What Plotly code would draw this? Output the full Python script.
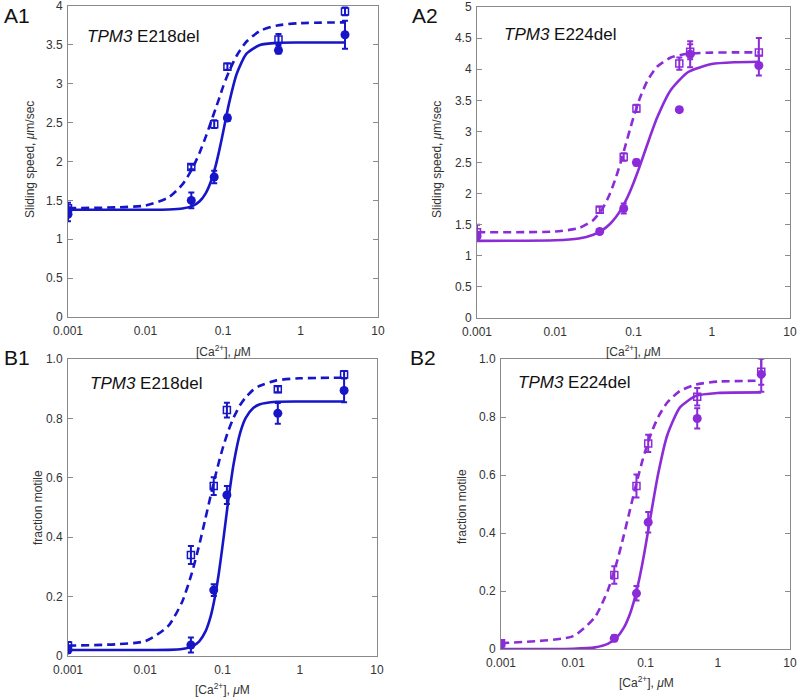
import plotly.graph_objects as go

BLUE = '#1616C8'
PURPLE = '#8C2CD8'
FONT = 'Liberation Sans, Arial, sans-serif'

# x tick labels shared by all panels
x_tickvals = [0.001, 0.01, 0.1, 1, 10]
x_ticktext = ['0.001', '0.01', '0.1', '1', '10']

# ---- A1 / B1 : TPM3 E218del (blue) ----
ca_218 = [0.001, 0.039, 0.077, 0.114, 0.52, 3.75]

a1_sq = [1.40, 1.93, 2.48, 3.22, 3.57, 3.93]
a1_sq_err = [0.07, 0.03, 0.05, 0.04, 0.07, 0.05]
a1_ci = [1.32, 1.50, 1.80, 2.56, 3.43, 3.63]
a1_ci_err = [0.09, 0.10, 0.08, 0.04, 0.04, 0.18]
a1_fit_x = [0.001, 0.01, 0.02, 0.03, 0.04, 0.05, 0.06, 0.07, 0.08, 0.09, 0.1, 0.12, 0.15, 0.2, 0.3, 0.5, 1, 3.75]
a1_fit_dash = [1.40, 1.434, 1.540, 1.705, 1.904, 2.115, 2.320, 2.509, 2.676, 2.821, 2.96, 3.16, 3.36, 3.54, 3.68, 3.75, 3.78, 3.79]
a1_fit_solid = [1.38, 1.38, 1.383, 1.395, 1.426, 1.489, 1.594, 1.746, 1.937, 2.153, 2.371, 2.754, 3.126, 3.384, 3.499, 3.526, 3.53, 3.53]

b1_sq = [0.035, 0.34, 0.572, 0.828, 0.898, 0.948]
b1_sq_err = [0.012, 0.03, 0.03, 0.025, 0.01, 0.012]
b1_ci = [0.02, 0.037, 0.222, 0.542, 0.817, 0.894]
b1_ci_err = [0.01, 0.025, 0.02, 0.03, 0.035, 0.04]
b1_fit_x = [0.001, 0.01, 0.02, 0.03, 0.04, 0.05, 0.06, 0.07, 0.08, 0.09, 0.1, 0.11, 0.12, 0.14, 0.17, 0.2, 0.25, 0.3, 0.5, 1, 3.75]
b1_fit_dash = [0.035, 0.050, 0.102, 0.182, 0.278, 0.374, 0.462, 0.538, 0.602, 0.654, 0.697, 0.732, 0.761, 0.804, 0.846, 0.871, 0.896, 0.909, 0.928, 0.935, 0.937]
b1_fit_solid = [0.02, 0.02, 0.0206, 0.0234, 0.0315, 0.0495, 0.0819, 0.132, 0.2007, 0.282, 0.370, 0.455, 0.532, 0.650, 0.753, 0.802, 0.835, 0.847, 0.856, 0.857, 0.857]

# ---- A2 / B2 : TPM3 E224del (purple) ----
ca_224_a = [0.001, 0.037, 0.075, 0.109, 0.385, 0.53, 4.0]
a2_sq = [1.38, 1.74, 2.59, 3.37, 4.09, 4.28, 4.27]
a2_sq_err = [0.12, 0.05, 0.06, 0.06, 0.10, 0.12, 0.23]
a2_ci = [1.31, 1.39, 1.76, 2.50, 3.35, 4.24, 4.06]
a2_ci_err = [0.07, 0.04, 0.08, 0.05, 0.04, 0.21, 0.16]
a2_fit_x = [0.001, 0.01, 0.02, 0.03, 0.04, 0.05, 0.06, 0.07, 0.08, 0.09, 0.1, 0.12, 0.15, 0.2, 0.3, 0.5, 1, 2, 4]
a2_fit_dash = [1.38, 1.39, 1.445, 1.565, 1.754, 1.998, 2.270, 2.544, 2.801, 3.029, 3.225, 3.527, 3.810, 4.039, 4.188, 4.249, 4.267, 4.27, 4.27]
a2_fit_solid = [1.24, 1.249, 1.279, 1.334, 1.412, 1.511, 1.627, 1.755, 1.891, 2.031, 2.170, 2.438, 2.789, 3.218, 3.666, 3.955, 4.083, 4.112, 4.12]

ca_224_b = [0.001, 0.037, 0.075, 0.109, 0.52, 4.0]
b2_sq = [0.02, 0.255, 0.562, 0.709, 0.87, 0.956]
b2_sq_err = [0.01, 0.03, 0.04, 0.03, 0.03, 0.045]
b2_ci = [0.015, 0.037, 0.192, 0.437, 0.795, 0.947]
b2_ci_err = [0.01, 0.01, 0.025, 0.035, 0.035, 0.06]
b2_fit_x = [0.001, 0.01, 0.02, 0.03, 0.04, 0.05, 0.06, 0.07, 0.08, 0.09, 0.1, 0.12, 0.15, 0.2, 0.3, 0.5, 1, 4]
b2_fit_dash = [0.0203, 0.0445, 0.1105, 0.201, 0.2985, 0.391, 0.4725, 0.542, 0.599, 0.647, 0.685, 0.744, 0.800, 0.850, 0.890, 0.912, 0.922, 0.925]
b2_fit_solid = [0.0, 0.0007, 0.0055, 0.0176, 0.0395, 0.0726, 0.1165, 0.1696, 0.229, 0.2915, 0.354, 0.470, 0.605, 0.737, 0.833, 0.873, 0.883, 0.885]

W, H = 800, 699


def fx(px):
    return px / W


def fy(py):
    return 1 - py / H


def add_panel(fig, n, color, x, sq, sq_err, ci, ci_err, fit_x, fit_dash, fit_solid):
    xa = 'x' if n == 1 else 'x%d' % n
    ya = 'y' if n == 1 else 'y%d' % n
    fig.add_trace(go.Scatter(x=fit_x, y=fit_dash, mode='lines', line=dict(color=color, width=2.6, dash='8px,5px', shape='spline', smoothing=0.6),
                             xaxis=xa, yaxis=ya, showlegend=False, hoverinfo='skip'))
    fig.add_trace(go.Scatter(x=fit_x, y=fit_solid, mode='lines', line=dict(color=color, width=2.6, shape='spline', smoothing=0.6),
                             xaxis=xa, yaxis=ya, showlegend=False, hoverinfo='skip'))
    fig.add_trace(go.Scatter(x=x, y=sq, mode='markers',
                             marker=dict(symbol='square-open', size=7, color=color, line=dict(width=1.5, color=color)),
                             error_y=dict(type='data', array=sq_err, color=color, thickness=2, width=3),
                             xaxis=xa, yaxis=ya, showlegend=False))
    fig.add_trace(go.Scatter(x=x, y=ci, mode='markers',
                             marker=dict(symbol='circle', size=9, color=color),
                             error_y=dict(type='data', array=ci_err, color=color, thickness=2, width=3),
                             xaxis=xa, yaxis=ya, showlegend=False))


fig = go.Figure()
add_panel(fig, 1, BLUE, ca_218, a1_sq, a1_sq_err, a1_ci, a1_ci_err, a1_fit_x, a1_fit_dash, a1_fit_solid)
add_panel(fig, 2, PURPLE, ca_224_a, a2_sq, a2_sq_err, a2_ci, a2_ci_err, a2_fit_x, a2_fit_dash, a2_fit_solid)
add_panel(fig, 3, BLUE, ca_218, b1_sq, b1_sq_err, b1_ci, b1_ci_err, b1_fit_x, b1_fit_dash, b1_fit_solid)
add_panel(fig, 4, PURPLE, ca_224_b, b2_sq, b2_sq_err, b2_ci, b2_ci_err, b2_fit_x, b2_fit_dash, b2_fit_solid)

tickfont = dict(family=FONT, size=12, color='#333333')
xcommon = dict(type='log', range=[-3, 1], tickvals=x_tickvals, ticktext=x_ticktext, showline=True, mirror=True,
               linecolor='#8a8a8a', linewidth=1, ticks='', ticklabelstandoff=3, showgrid=False, zeroline=False,
               tickfont=tickfont, automargin=False, ticklabeloverflow='allow')
ycommon = dict(showline=True, mirror='ticks', linecolor='#8a8a8a', linewidth=1, ticks='inside', ticklen=5,
               tickcolor='#8a8a8a', showgrid=False, zeroline=False, tickfont=tickfont, automargin=False,
               ticklabelstandoff=2, ticklabeloverflow='allow')

frac_vals = [0, 0.2, 0.4, 0.6, 0.8, 1.0]
frac_text = ['0', '0.2', '0.4', '0.6', '0.8', '1.0']

# plot boxes, in pixels: (left, right, top, bottom)
boxes = {1: (68, 378, 6, 317), 2: (477, 790, 7, 318), 3: (68, 377, 359, 656), 4: (501, 790, 359, 649)}

layout = {}
for n, (l, r, t, b) in boxes.items():
    suf = '' if n == 1 else str(n)
    layout['xaxis' + suf] = dict(xcommon, domain=[fx(l), fx(r)], anchor='y' + suf)
    if n == 1:
        ya = dict(ycommon, range=[0, 4], dtick=0.5)
    elif n == 2:
        ya = dict(ycommon, range=[0, 5], dtick=0.5)
    else:
        ya = dict(ycommon, range=[0, 1], tickvals=frac_vals, ticktext=frac_text)
    layout['yaxis' + suf] = dict(ya, domain=[fy(b), fy(t)], anchor='x' + suf)

fig.update_layout(**layout)

ann = []


def text(s, px, py, size, xanchor='center', angle=0, color='#333333'):
    ann.append(dict(text=s, x=fx(px), y=fy(py), xref='paper', yref='paper', xanchor=xanchor, yanchor='middle',
                    showarrow=False, textangle=angle, font=dict(family=FONT, size=size, color=color)))


# panel letters
text('A1', 2, 16, 21, 'left', color='#111111')
text('A2', 410, 16, 21, 'left', color='#111111')
text('B1', 2, 357, 21, 'left', color='#111111')
text('B2', 408, 358, 21, 'left', color='#111111')

# genotype labels
text('<i>TPM3</i> E218del', 85, 36, 17, 'left', color='#111111')
text('<i>TPM3</i> E224del', 502, 34, 17, 'left', color='#111111')
text('<i>TPM3</i> E218del', 88, 383, 17, 'left', color='#111111')
text('<i>TPM3</i> E224del', 516, 382, 17, 'left', color='#111111')

# axis titles
ca_title = '[Ca<sup>2+</sup>], <i>μ</i>M'
text(ca_title, 223, 351, 12)
text(ca_title, 633, 351, 12)
text(ca_title, 222, 689, 12)
text(ca_title, 646, 682, 12)
text('Sliding speed, <i>μ</i>m/sec', 30, 160, 12, angle=-90)
text('Sliding speed, <i>μ</i>m/sec', 437, 160, 12, angle=-90)
text('fraction motile', 38, 508, 12, angle=-90)
text('fraction motile', 462, 507, 12, angle=-90)

fig.update_layout(
    width=W, height=H,
    margin=dict(l=0, r=0, t=0, b=0),
    paper_bgcolor='white', plot_bgcolor='white',
    showlegend=False,
    annotations=ann,
    font=dict(family=FONT),
)

# the page body has a default 8px margin; drop it so the figure sits at the window corner
fig.write_html("out.html", config={'displayModeBar': False},
               post_script="document.body.style.margin = '0px';")
